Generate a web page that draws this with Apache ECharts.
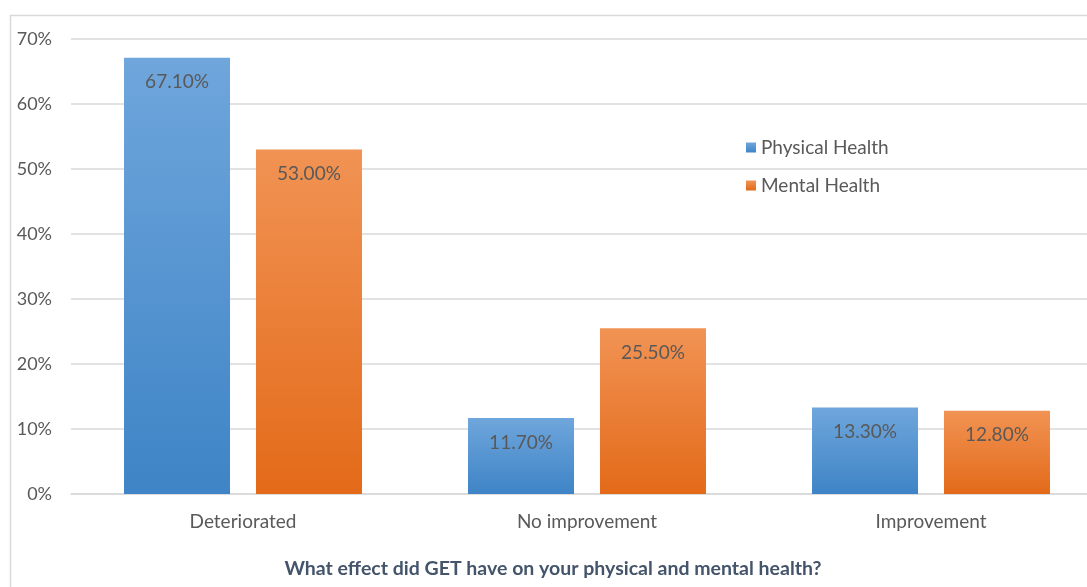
<!DOCTYPE html>
<html><head><meta charset="utf-8">
<script src="https://cdn.jsdelivr.net/npm/echarts@6/dist/echarts.min.js"></script>
<style>html,body{margin:0;padding:0;background:#fff}#c{width:1087px;height:587px}</style>
</head><body><div id="c"></div>
<script>
const categories = ['Deteriorated', 'No improvement', 'Improvement'];
const physical = [67.1, 11.7, 13.3];
const mental = [53.0, 25.5, 12.8];
const yTicks = [0, 10, 20, 30, 40, 50, 60, 70];
const seriesNames = ['Physical Health', 'Mental Health'];
const axisTitle = 'What effect did GET have on your physical and mental health?';

const font = 'Lato, "Open Sans", sans-serif';
const txt = '#595959';
function grad(top, bottom) {
  return new echarts.graphic.LinearGradient(0, 0, 0, 1, [{offset: 0, color: top}, {offset: 1, color: bottom}]);
}
const chart = echarts.init(document.getElementById('c'));
chart.setOption({
  animation: false,
  textStyle: {fontFamily: font},
  graphic: [{type: 'rect', shape: {x: 10.5, y: 15.5, width: 1200, height: 700}, style: {fill: 'none', stroke: '#d9d9d9', lineWidth: 1.5}, silent: true}],
  title: {
    text: axisTitle, left: 553, top: 559, textAlign: 'center', padding: 0,
    textStyle: {color: '#44546a', fontSize: 19.5, fontWeight: 'bold', fontFamily: font}
  },
  legend: {
    orient: 'vertical', left: 741, top: 133, itemGap: 19, itemWidth: 10, itemHeight: 10,
    icon: 'rect', textStyle: {color: txt, fontSize: 19, fontFamily: font},
    data: seriesNames
  },
  grid: {left: 71, top: 39, width: 1032, height: 455, containLabel: false, outerBoundsMode: 'none'},
  xAxis: {
    type: 'category', data: categories,
    axisLine: {lineStyle: {color: '#d9d9d9', width: 1.5}}, axisTick: {show: false},
    axisLabel: {color: txt, fontSize: 19, margin: 18}
  },
  yAxis: {
    type: 'value', min: 0, max: 70, interval: 10,
    axisLabel: {color: txt, fontSize: 18, margin: 19, formatter: v => yTicks.includes(v) ? v + '%' : ''},
    splitLine: {lineStyle: {color: '#d9d9d9', width: 1.5}},
    axisLine: {show: false}, axisTick: {show: false}
  },
  series: [
    {name: seriesNames[0], type: 'bar', data: physical, barWidth: 106, barGap: '24.5%',
     itemStyle: {color: grad('#6fa6dc', '#3e84c6')},
     label: {show: true, position: 'insideTop', distance: 15, color: txt, fontSize: 19, formatter: p => p.value.toFixed(2) + '%'}},
    {name: seriesNames[1], type: 'bar', data: mental, barWidth: 106,
     itemStyle: {color: grad('#f19354', '#e36a19')},
     label: {show: true, position: 'insideTop', distance: 15, color: txt, fontSize: 19, formatter: p => p.value.toFixed(2) + '%'}}
  ]
});
</script></body></html>
